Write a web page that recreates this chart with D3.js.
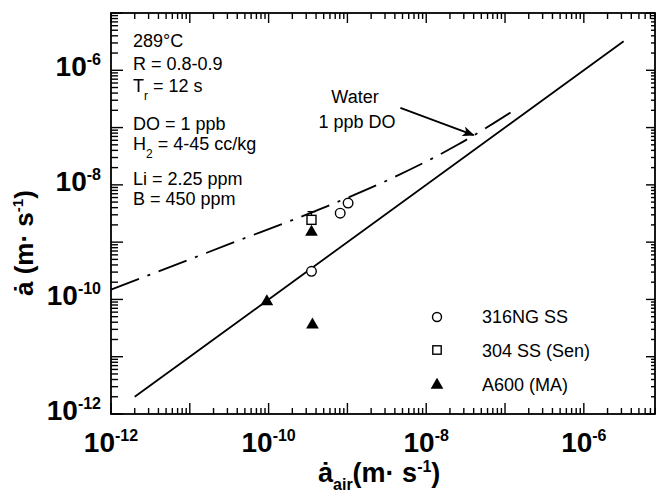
<!DOCTYPE html>
<html>
<head>
<meta charset="utf-8">
<script src="https://cdn.jsdelivr.net/npm/d3@7"></script>
<style>
  body { margin: 0; background: #fff; }
  svg { font-family: "Liberation Sans", Arial, Helvetica, sans-serif; }
</style>
</head>
<body>
<div id="chart"></div>
<script>
// decade labels on both axes (exponents)
const xTickExp = [-12, -10, -8, -6];
const yTickExp = [-12, -10, -8, -6];

// 1:1 line, environment rate = air rate
const solidX = [2e-12, 3.2e-6];
const solidY = [2e-12, 3.2e-6];

// water, 1 ppb DO curve (dash-dot)
const dashX = [1e-12, 3.2e-11, 5e-10, 4e-9, 2.5e-8, 1.3e-7];
const dashY = [1.48e-10, 9.3e-10, 4e-9, 1.38e-8, 5e-8, 2.0e-7];

// 316NG SS
const ngX = [3.5e-10, 8.1e-10, 1.02e-9];
const ngY = [3.1e-10, 3.2e-9, 4.8e-9];

// 304 SS (Sen), with upper error value
const senX = [3.5e-10];
const senY = [2.45e-9];
const senHi = [3.4e-9];

// A600 (MA)
const maX = [3.5e-10, 9.5e-11, 3.6e-10];
const maY = [1.5e-9, 9.2e-11, 3.6e-11];

// condition text
const condLines = [
  ["289°C", ""], ["R = 0.8-0.9", ""], ["T", "r", " = 12 s"], ["DO = 1 ppb", ""],
  ["H", "2", " = 4-45 cc/kg"], ["Li = 2.25 ppm", ""], ["B = 450 ppm", ""]
];
const legendNames = ["316NG SS", "304 SS (Sen)", "A600 (MA)"];

//SVG size and margins
const svgWidth = 657;
const svgHeight = 494;
const margin = {top: 13, right: 2, bottom: 80, left: 111};
const width = svgWidth - margin.left - margin.right;
const height = svgHeight - margin.top - margin.bottom;

const svg = d3.select("#chart").append("svg")
  .attr("width", svgWidth)
  .attr("height", svgHeight);

const defs = svg.append("defs");
defs.append("marker")
  .attr("id", "arrow")
  .attr("viewBox", "0 0 12 10")
  .attr("refX", 11).attr("refY", 5)
  .attr("markerWidth", 12).attr("markerHeight", 10)
  .attr("markerUnits", "userSpaceOnUse")
  .attr("orient", "auto")
  .append("path").attr("d", "M0,0 L12,5 L0,10 L3,5 Z").attr("fill", "#000");

const g = svg.append("g").attr("transform", `translate(${margin.left},${margin.top})`);

const x = d3.scaleLog().domain([1e-12, 8e-6]).range([0, width]);
const y = d3.scaleLog().domain([1e-12, 1e-5]).range([height, 0]);

// log ticks: 1..9 x 10^k inside each domain
function logTicks(lo, hi) {
  const out = [];
  for (let e = Math.floor(Math.log10(lo)); e <= Math.ceil(Math.log10(hi)); e++) {
    for (let m = 1; m <= 9; m++) {
      const v = m * Math.pow(10, e);
      if (v >= lo * 0.999 && v <= hi * 1.001) out.push({v: v, major: m === 1});
    }
  }
  return out;
}
const xT = logTicks(1e-12, 8e-6);
const yT = logTicks(1e-12, 1e-5);

// inward ticks on all four sides
const tk = g.append("g").attr("stroke", "#000").attr("stroke-width", 1.4);
tk.selectAll(".xb").data(xT).enter().append("line")
  .attr("x1", d => x(d.v)).attr("x2", d => x(d.v))
  .attr("y1", height).attr("y2", d => height - (d.major ? 11 : 6));
tk.selectAll(".xt").data(xT).enter().append("line")
  .attr("x1", d => x(d.v)).attr("x2", d => x(d.v))
  .attr("y1", 0).attr("y2", d => d.major ? 10 : 6);
tk.selectAll(".yl").data(yT).enter().append("line")
  .attr("y1", d => y(d.v)).attr("y2", d => y(d.v))
  .attr("x1", 0).attr("x2", d => d.major ? 12 : 7);
tk.selectAll(".yr").data(yT).enter().append("line")
  .attr("y1", d => y(d.v)).attr("y2", d => y(d.v))
  .attr("x1", width).attr("x2", d => width - (d.major ? 9 : 4));

// frame
g.append("rect")
  .attr("width", width).attr("height", height)
  .attr("fill", "none").attr("stroke", "#000").attr("stroke-width", 1.8);

// tick labels with superscript exponents
function powLabel(sel, e) {
  sel.append("tspan").text("10");
  sel.append("tspan").attr("dy", -11).attr("font-size", 16).text(e);
}
xTickExp.forEach(e => {
  g.append("text")
    .attr("x", x(Math.pow(10, e))).attr("y", height + 38)
    .attr("text-anchor", "middle").attr("font-size", 28).attr("font-weight", "bold")
    .call(powLabel, e);
});
yTickExp.forEach(e => {
  g.append("text")
    .attr("x", -10).attr("y", y(Math.pow(10, e)) + 6)
    .attr("text-anchor", "end").attr("font-size", 28).attr("font-weight", "bold")
    .call(powLabel, e);
});

// axis titles
const xTitle = svg.append("text")
  .attr("x", 318).attr("y", 482)
  .attr("font-size", 27).attr("font-weight", "bold");
xTitle.append("tspan").text("ȧ");
xTitle.append("tspan").attr("dy", 8).attr("font-size", 16).text("air");
xTitle.append("tspan").attr("dy", -8).text("(m· s");
xTitle.append("tspan").attr("dy", -10).attr("font-size", 16).text("-1");
xTitle.append("tspan").attr("dy", 10).text(")");

const yTitle = svg.append("text")
  .attr("transform", "translate(33,296) rotate(-90)")
  .attr("font-size", 26).attr("font-weight", "bold");
yTitle.append("tspan").text("ȧ (m· s");
yTitle.append("tspan").attr("dy", -10).attr("font-size", 15).text("-1");
yTitle.append("tspan").attr("dy", 10).text(")");

// lines
const line = d3.line().x(d => x(d[0])).y(d => y(d[1]));
g.append("path")
  .datum(d3.zip(solidX, solidY))
  .attr("d", line)
  .attr("fill", "none").attr("stroke", "#000").attr("stroke-width", 1.8);

g.append("path")
  .datum(d3.zip(dashX, dashY))
  .attr("d", line.curve(d3.curveMonotoneX))
  .attr("fill", "none").attr("stroke", "#000").attr("stroke-width", 1.8)
  .attr("stroke-dasharray", "30,9,3,9");

// markers
const tri = d3.symbol().type(d3.symbolTriangle).size(70);

g.selectAll(".ng").data(d3.zip(ngX, ngY)).enter().append("circle")
  .attr("cx", d => x(d[0])).attr("cy", d => y(d[1])).attr("r", 4.8)
  .attr("fill", "#fff").attr("stroke", "#000").attr("stroke-width", 1.4);

g.selectAll(".senErr").data(d3.zip(senX, senY, senHi)).enter().append("path")
  .attr("d", d => `M${x(d[0]) - 4},${y(d[2])}H${x(d[0]) + 4}M${x(d[0])},${y(d[2])}V${y(d[1])}`)
  .attr("stroke", "#000").attr("stroke-width", 1.3);
g.selectAll(".sen").data(d3.zip(senX, senY)).enter().append("rect")
  .attr("x", d => x(d[0]) - 4.5).attr("y", d => y(d[1]) - 4.5)
  .attr("width", 9).attr("height", 9)
  .attr("fill", "#fff").attr("stroke", "#000").attr("stroke-width", 1.4);

g.selectAll(".ma").data(d3.zip(maX, maY)).enter().append("path")
  .attr("transform", d => `translate(${x(d[0])},${y(d[1])})`)
  .attr("d", tri).attr("fill", "#000");

// conditions block
condLines.forEach((c, i) => {
  const base = [34, 57, 79, 117, 137, 172, 192][i];
  const t = g.append("text").attr("x", 22).attr("y", base).attr("font-size", 18);
  t.append("tspan").text(c[0]);
  if (c.length === 3) {
    t.append("tspan").attr("dy", 8).attr("font-size", 12).text(c[1]);
    t.append("tspan").attr("dy", -8).text(c[2]);
  }
});

// water annotation
g.append("text").attr("x", 244).attr("y", 90).attr("text-anchor", "middle")
  .attr("font-size", 18).text("Water");
g.append("text").attr("x", 246).attr("y", 115).attr("text-anchor", "middle")
  .attr("font-size", 18).text("1 ppb DO");
g.append("line")
  .attr("x1", x(4.7e-9)).attr("y1", y(2.2e-7))
  .attr("x2", x(4e-8)).attr("y2", y(7.4e-8))
  .attr("stroke", "#000").attr("stroke-width", 1.8)
  .attr("marker-end", "url(#arrow)");

// legend
const leg = g.append("g").attr("transform", "translate(326,304)");
leg.append("circle").attr("cx", 0).attr("cy", 0).attr("r", 4.5)
  .attr("fill", "#fff").attr("stroke", "#000").attr("stroke-width", 1.4);
leg.append("rect").attr("x", -4.2).attr("y", 33 - 4.2).attr("width", 8.4).attr("height", 8.4)
  .attr("fill", "#fff").attr("stroke", "#000").attr("stroke-width", 1.4);
leg.append("path").attr("transform", "translate(0,68)").attr("d", tri).attr("fill", "#000");
legendNames.forEach((n, i) => {
  leg.append("text").attr("x", 45).attr("y", i * 34 + 6)
    .attr("font-size", 18).text(n);
});
</script>
</body>
</html>
